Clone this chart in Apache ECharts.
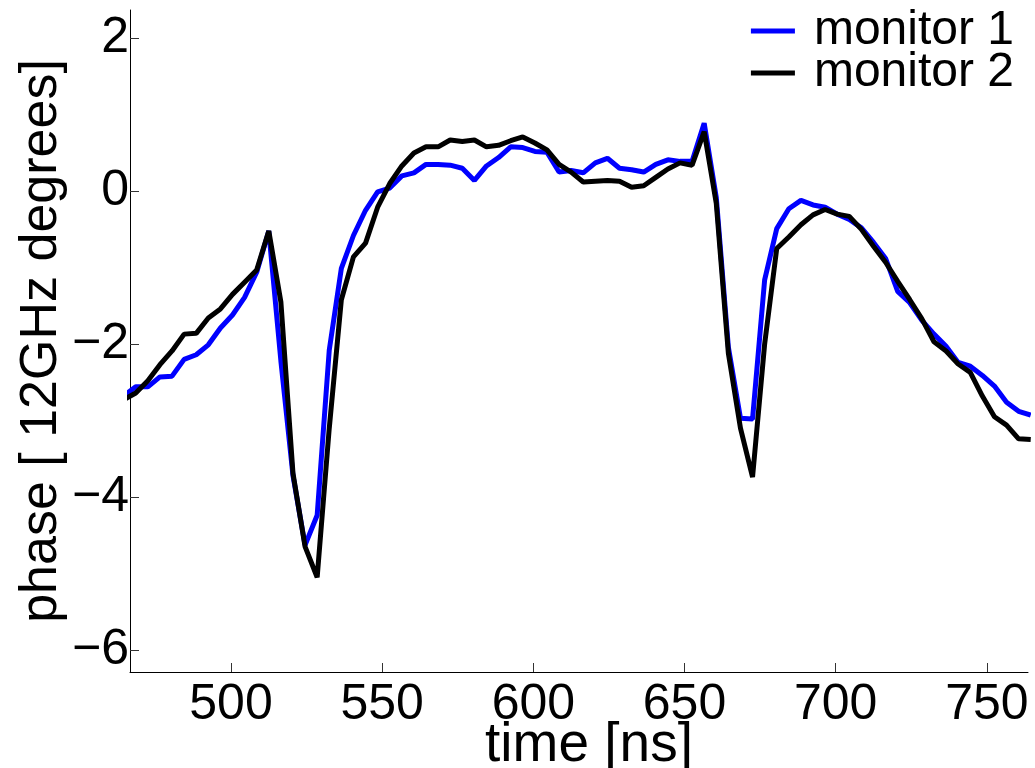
<!DOCTYPE html>
<html>
<head>
<meta charset="utf-8">
<script src="https://cdn.jsdelivr.net/npm/echarts@6/dist/echarts.min.js"></script>
<style>
html,body{margin:0;padding:0;background:#fff;}
#chart{width:1035px;height:768px;}
</style>
</head>
<body>
<div id="chart"></div>
<script>
var times = [464.5, 468.5, 472.5, 476.5, 480.5, 484.5, 488.5, 492.5, 496.5, 500.5,
  504.5, 508.5, 512.5, 516.5, 520.5, 524.5, 528.5, 532.5, 536.5, 540.5,
  544.5, 548.5, 552.5, 556.5, 560.5, 564.5, 568.5, 572.5, 576.5, 580.5,
  584.5, 588.5, 592.5, 596.5, 600.5, 604.5, 608.5, 612.5, 616.5, 620.5,
  624.5, 628.5, 632.5, 636.5, 640.5, 644.5, 648.5, 652.5, 656.5, 660.5,
  664.5, 668.5, 672.5, 676.5, 680.5, 684.5, 688.5, 692.5, 696.5, 700.5,
  704.5, 708.5, 712.5, 716.5, 720.5, 724.5, 728.5, 732.5, 736.5, 740.5,
  744.5, 748.5, 752.5, 756.5, 760.5, 764.5];

var monitor1 = [-2.68, -2.56, -2.56, -2.43, -2.42, -2.20, -2.14, -2.01, -1.79, -1.62,
  -1.39, -1.06, -0.52, -2.22, -3.72, -4.63, -4.24, -2.08, -1.01, -0.58,
  -0.25, -0.01, 0.04, 0.20, 0.24, 0.35, 0.35, 0.34, 0.30, 0.14,
  0.33, 0.44, 0.58, 0.57, 0.52, 0.51, 0.25, 0.27, 0.24, 0.37,
  0.43, 0.30, 0.28, 0.25, 0.35, 0.41, 0.39, 0.39, 0.89, -0.08,
  -2.04, -2.97, -2.98, -1.16, -0.49, -0.23, -0.12, -0.18, -0.21, -0.30,
  -0.37, -0.48, -0.67, -0.88, -1.31, -1.46, -1.69, -1.87, -2.03, -2.24,
  -2.29, -2.41, -2.55, -2.76, -2.88, -2.93];

var monitor2 = [-2.73, -2.64, -2.48, -2.27, -2.09, -1.87, -1.86, -1.66, -1.54, -1.35,
  -1.19, -1.03, -0.52, -1.45, -3.69, -4.65, -5.05, -3.10, -1.42, -0.86,
  -0.68, -0.21, 0.10, 0.33, 0.50, 0.58, 0.58, 0.67, 0.65, 0.67,
  0.58, 0.60, 0.66, 0.71, 0.63, 0.54, 0.35, 0.25, 0.12, 0.13,
  0.14, 0.13, 0.05, 0.07, 0.18, 0.29, 0.37, 0.34, 0.78, -0.16,
  -2.12, -3.10, -3.74, -2.00, -0.75, -0.60, -0.44, -0.31, -0.24, -0.30,
  -0.33, -0.50, -0.72, -0.93, -1.18, -1.42, -1.67, -1.97, -2.09, -2.26,
  -2.37, -2.68, -2.95, -3.06, -3.24, -3.25];

var seriesNames = ['monitor 1', 'monitor 2'];
var xTickLabels = [500, 550, 600, 650, 700, 750];
var yTickLabels = [-6, -4, -2, 0, 2];

function pairs(xs, ys) {
  var out = [];
  for (var i = 0; i < xs.length; i++) out.push([xs[i], ys[i]]);
  return out;
}

var FONT = 'Liberation Sans';
var chart = echarts.init(document.getElementById('chart'), null, {renderer: 'canvas', width: 1035, height: 768});
chart.setOption({
  animation: false,
  backgroundColor: '#ffffff',
  grid: {left: 130, width: 898, top: 10, height: 662, containLabel: false, outerBoundsMode: 'none'},
  legend: {
    orient: 'vertical',
    right: 16,
    top: 2,
    icon: 'rect',
    itemWidth: 44,
    itemHeight: 5,
    itemGap: -6,
    textStyle: {fontFamily: FONT, fontSize: 48, color: '#000', padding: [0, 0, 0, 14]},
    data: seriesNames
  },
  xAxis: {
    type: 'value',
    min: 466.6,
    max: 763.6,
    minInterval: 50,
    maxInterval: 50,
    name: 'time [ns]',
    nameLocation: 'middle',
    nameGap: 46,
    nameMoveOverlap: false,
    nameTextStyle: {fontFamily: FONT, fontSize: 55, color: '#000', padding: [0, 0, 0, 20]},
    splitLine: {show: false},
    axisLine: {onZero: false, lineStyle: {color: '#000', width: 1}},
    axisTick: {inside: true, length: 9, lineStyle: {color: '#333', width: 1}},
    axisLabel: {
      showMinLabel: false, showMaxLabel: false,
      margin: 8,
      fontFamily: FONT, fontSize: 50, color: '#000',
      formatter: function (v) { return xTickLabels.indexOf(v) >= 0 ? String(v) : ''; }
    }
  },
  yAxis: {
    type: 'value',
    min: -6.29,
    max: 2.37,
    minInterval: 2,
    maxInterval: 2,
    name: 'phase [ 12GHz degrees]',
    nameLocation: 'middle',
    nameGap: 62,
    nameMoveOverlap: false,
    nameTextStyle: {fontFamily: FONT, fontSize: 52, color: '#000'},
    splitLine: {show: false},
    axisLine: {onZero: false, lineStyle: {color: '#000', width: 1}},
    axisTick: {inside: true, length: 9, lineStyle: {color: '#333', width: 1}},
    axisLabel: {
      showMinLabel: false, showMaxLabel: false,
      margin: 1,
      fontFamily: FONT, fontSize: 50, color: '#000',
      formatter: function (v) {
        if (yTickLabels.indexOf(v) < 0) return '';
        return String(v).replace('-', '\u2212');
      }
    }
  },
  series: [
    {
      name: seriesNames[0], type: 'line', data: pairs(times, monitor1),
      showSymbol: false, symbol: 'none', clip: true,
      lineStyle: {color: '#0000ff', width: 5},
      itemStyle: {color: '#0000ff'}
    },
    {
      name: seriesNames[1], type: 'line', data: pairs(times, monitor2),
      showSymbol: false, symbol: 'none', clip: true,
      lineStyle: {color: '#000000', width: 5},
      itemStyle: {color: '#000000'}
    }
  ]
});
</script>
</body>
</html>
